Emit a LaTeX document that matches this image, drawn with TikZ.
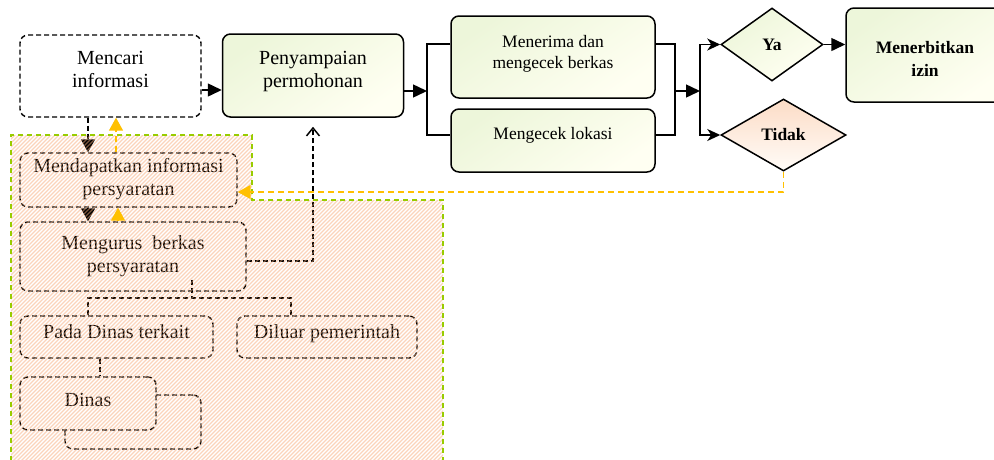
\documentclass[tikz,border=0pt]{standalone}
\usepackage{fontspec}
\setmainfont{Liberation Serif}
\usetikzlibrary{arrows.meta,shapes.geometric}

\definecolor{greenA}{RGB}{237,246,218}
\definecolor{greenB}{RGB}{255,255,242}
\definecolor{peachA}{RGB}{252,220,198}
\definecolor{peachB}{RGB}{255,252,248}
\definecolor{hatchc}{RGB}{247,170,120}
\definecolor{limeline}{RGB}{153,204,0}
\definecolor{goldline}{RGB}{255,192,0}

% invisible struts that move a node's text up or down inside its frame
\newcommand\lift[1]{\rule[-#1pt]{0pt}{#1pt}}
\newcommand\drop[1]{\rule{0pt}{#1pt}}

\begin{document}
\begin{tikzpicture}[x=1pt,y=-1pt,
  leftfont/.style={font=\fontsize{20}{23}\selectfont},
  rightfont/.style={font=\fontsize{17.5}{21}\selectfont},
  boldfont/.style={font=\fontsize{17.5}{22.7}\selectfont\bfseries},
  greenfill/.style={shading=axis, top color=greenA, bottom color=greenB, shading angle=35},
  solidbox/.style={draw=black, line width=1.5pt, rounded corners=8pt, align=center,
    inner sep=0pt, greenfill},
  dashbox/.style={draw=black, line width=1.4pt, dash pattern=on 5pt off 3pt,
    rounded corners=8pt, align=center, inner sep=0pt, leftfont},
  decision/.style={diamond, draw=black, line width=1.5pt, inner sep=0pt, align=center, boldfont},
  line/.style={draw=black, line width=1.5pt},
  bigtip/.style={-{Triangle[length=14pt,width=13pt]}},
  barbtip/.style={-{Stealth[length=13pt,width=12pt,inset=4pt]}},
  dline/.style={draw=black, line width=1.5pt, dash pattern=on 5pt off 3pt},
  downtip/.style={-{Triangle[length=13pt,width=14pt]}},
  yline/.style={draw=goldline, line width=1.5pt, dash pattern=on 6pt off 4pt},
  ytip/.style={-{Triangle[length=13pt,width=14pt,fill=goldline]}},
  hatchline/.style={draw=hatchc, line width=1.2pt, opacity=0.5},
  regionline/.style={draw=limeline, line width=1.4pt, dash pattern=on 5pt off 4pt}
]
\clip (0,0) rectangle (994,459);

% ---- main flow ----
\node[dashbox, minimum width=181pt, minimum height=82pt] (mencari) at (110.5,76)
  {Mencari\\informasi\lift{12.8}};
\node[solidbox, leftfont, minimum width=181pt, minimum height=83pt] (penyampaian) at (313,75.5)
  {Penyampaian\\permohonan\lift{11.8}};
\node[solidbox, rightfont, minimum width=204pt, minimum height=82pt] (menerima) at (553,57)
  {Menerima dan\\mengecek berkas\lift{11.1}};
\node[solidbox, rightfont, minimum width=204pt, minimum height=63pt] (lokasi) at (553,140.5)
  {Mengecek lokasi\lift{15.1}};
\node[decision, greenfill, minimum width=102pt, minimum height=73pt] (ya) at (772,44.5) {Ya};
\node[decision, shading=axis, top color=peachA, bottom color=peachB,
  minimum width=125pt, minimum height=72pt] (tidak) at (783.5,135) {Tidak};
\node[solidbox, boldfont, minimum width=158pt, minimum height=94pt] (terbit) at (925,55)
  {\drop{19.3}Menerbitkan\\izin};

\coordinate (fork) at (427,91);
\coordinate (join) at (675,91);
\coordinate (fork2) at (700,91);
\coordinate (bus) at (192,298);

\draw[line, bigtip] ([yshift=-14pt]mencari.east) -- ([yshift=-14pt]mencari.east -| penyampaian.west);
\draw[line, bigtip] ([yshift=-15.5pt]penyampaian.east) -- (fork);
\draw[line] ([yshift=13pt]menerima.west) -| (fork) |- ([yshift=5.5pt]lokasi.west);
\draw[line] ([yshift=13pt]menerima.east) -| (join) |- ([yshift=5.5pt]lokasi.east);
\draw[line, bigtip] (join) -- (fork2);
\draw[line, barbtip] (fork2) |- (ya.west);
\draw[line, barbtip] (fork2) |- (tidak.west);
\draw[line, bigtip] (ya.east) -- (ya.east -| terbit.west);

% ---- requirements area ----
\node[dashbox, minimum width=217pt, minimum height=54pt] (mendapat) at (128.5,180)
  {Mendapatkan informasi\\persyaratan\lift{5.4}};
\node[dashbox, minimum width=226pt, minimum height=69pt] (mengurus) at (133,256.5)
  {Mengurus\ \ berkas\\persyaratan};
\node[dashbox, minimum width=193pt, minimum height=42pt] (pada) at (116.5,337)
  {Pada Dinas terkait\lift{11.2}};
\node[dashbox, minimum width=180pt, minimum height=42pt] (diluar) at (327,337)
  {Diluar pemerintah\lift{11.2}};
\node[dashbox, minimum width=136pt, minimum height=54pt] (dinasb) at (133,422) {};
\node[dashbox, fill=white, minimum width=136pt, minimum height=53pt] (dinas) at (88,403.5)
  {Dinas\lift{7.4}};

\draw[dline, downtip] ([xshift=-22.5pt]mencari.south) -- ([xshift=-22.5pt]mencari.south |- mendapat.north);
\draw[dline, downtip] ([xshift=-40.5pt]mendapat.south) -- ([xshift=-40.5pt]mendapat.south |- mengurus.north);
\draw[dline, -{Straight Barb[length=8pt,width=13pt]}, shorten >=9pt]
  ([yshift=-4.5pt]mengurus.east) -| (penyampaian.south);
\draw[dline] ([xshift=59pt,yshift=12pt]mengurus.south) -- (bus);
\draw[dline] ([xshift=-28.5pt]pada.north) |- (bus) -| ([xshift=-36pt]diluar.north);
\draw[dline] ([xshift=-16.5pt]pada.south) -- ([xshift=-16.5pt]pada.south |- dinas.north);

% hatched backdrop of the requirements area
\begin{scope}
  \clip (11,135) -- (252,135) -- (252,200) -- (443,200) -- (443,470) -- (11,470) -- cycle;
  \draw[hatchline] \foreach \k in {-340,-336,...,450} {(\k,470) -- ++(340,-340)};
\end{scope}
\draw[regionline] (11,470) -- (11,135) -- (252,135) -- (252,200) -- (443,200) -- (443,470);

% return paths
\draw[yline, ytip] ([xshift=-12.5pt]mendapat.north) -- ([xshift=-12.5pt]mendapat.north |- mencari.south);
\draw[yline, ytip] ([xshift=-15pt]mengurus.north) -- ([xshift=-15pt]mengurus.north |- mendapat.south);
\draw[yline, ytip] (tidak.south) |- ([yshift=-12pt]mendapat.east);
\end{tikzpicture}
\end{document}
